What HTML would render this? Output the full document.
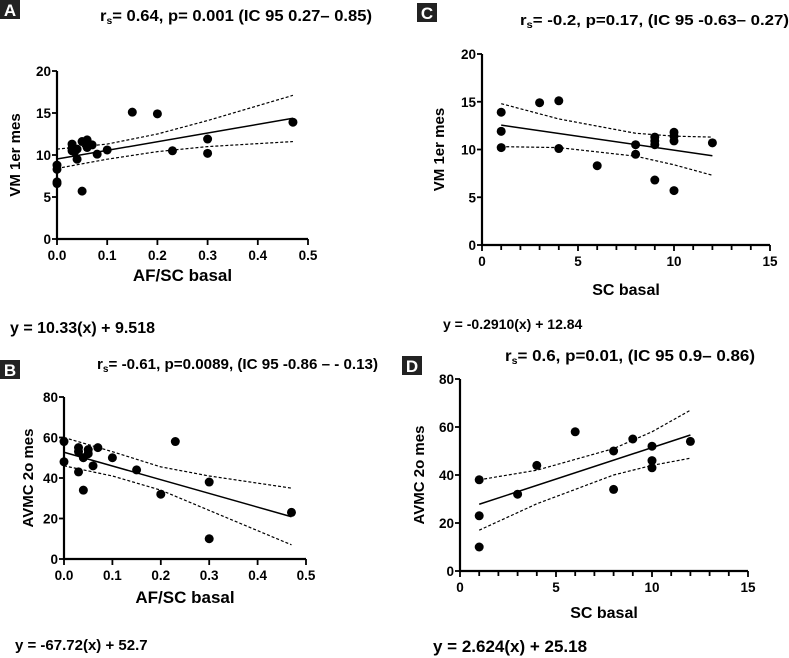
<!DOCTYPE html>
<html><head><meta charset="utf-8"><style>
body{margin:0;background:#fff}
svg{display:block}
svg text{font-family:"Liberation Sans",Arial,sans-serif;font-weight:700}
</style></head><body>
<svg id="fig" width="789" height="658" viewBox="0 0 789 658"></svg>
<script>
// Panel A data
const aX=[0,0,0,0,0.03,0.03,0.03,0.035,0.04,0.04,0.05,0.05,0.06,0.06,0.07,0.08,0.1,0.15,0.2,0.23,0.3,0.3,0.47];
const aY=[8.8,8.3,6.8,6.6,11.3,10.8,10.5,10.4,10.7,9.5,11.6,5.7,11.8,10.9,11.2,10.1,10.6,15.1,14.9,10.5,11.9,10.2,13.9];
const aCiX=[0,0.1,0.2,0.3,0.47];
const aCiUp=[10.7,11.3,12.5,14.1,17.1];
const aCiLo=[8.4,9.5,10.4,11.0,11.6];
const aFit=[10.33,9.518];
const aXTicks=["0.0","0.1","0.2","0.3","0.4","0.5"];
const aYTicks=["0","5","10","15","20"];
// Panel B data
const bX=[0,0,0.03,0.03,0.03,0.04,0.04,0.05,0.05,0.06,0.07,0.1,0.15,0.2,0.23,0.3,0.3,0.47];
const bY=[58,48,55,53,43,50,34,54,52,46,55,50,44,32,58,38,10,23];
const bCiX=[0,0.1,0.2,0.3,0.47];
const bCiUp=[60,53,45.5,41,35];
const bCiLo=[46,41,34,24,7];
const bFit=[-67.72,52.7];
const bYTicks=["0","20","40","60","80"];
// Panel C data
const cX=[1,1,1,3,4,4,6,8,8,9,9,9,9,10,10,10,10,12];
const cY=[13.9,11.9,10.2,14.9,15.1,10.1,8.3,10.5,9.5,11.3,10.9,10.5,6.8,11.8,11.4,10.9,5.7,10.7];
const cCiX=[1,4,8,10,12];
const cCiUp=[14.8,13.2,11.7,11.4,11.3];
const cCiLo=[10.3,10.2,9.3,8.4,7.3];
const cFit=[-0.291,12.84];
const cXTicks=["0","5","10","15"];
// Panel D data
const dX=[1,1,1,3,4,6,8,8,9,10,10,10,12];
const dY=[38,23,10,32,44,58,50,34,55,52,46,43,54];
const dCiX=[1,4,8,10,12];
const dCiUp=[38,42,51,58,67];
const dCiLo=[17,28,40,44,47];
const dFit=[2.624,25.18];

const NS="http://www.w3.org/2000/svg";
const svg=document.getElementById('fig');
function mk(tag,attrs,parent,text){const e=document.createElementNS(NS,tag);for(const k in attrs)e.setAttribute(k,attrs[k]);if(tag==='text')e.setAttribute('font-weight','bold');if(text!==undefined)e.textContent=text;(parent||svg).appendChild(e);return e;}

function panel(o){
  const g=mk('g',{});
  
  
  const sx=v=>o.x0+(v-o.xmin)/(o.xmax-o.xmin)*(o.x1-o.x0);
  const sy=v=>o.y0-(v-o.ymin)/(o.ymax-o.ymin)*(o.y0-o.y1);
  const ya=mk('line',{x1:o.x0,y1:o.y1,x2:o.x0,y2:o.y0+1,stroke:'#000','stroke-width':2.2},g);
  
  const xa=mk('line',{x1:o.x0-1,y1:o.y0,x2:o.x1,y2:o.y0,stroke:'#000','stroke-width':2.2},g);
  
  o.yt.forEach((t,i)=>{const v=o.ymin+i*(o.ymax-o.ymin)/(o.yt.length-1);const y=sy(v);
    mk('line',{x1:o.x0-5,y1:y,x2:o.x0,y2:y,stroke:'#000','stroke-width':1.8},g);
    const tx=mk('text',{x:o.x0-6,y:y+5,'text-anchor':'end','font-size':13.5},g,t);
    });
  o.xt.forEach((t,i)=>{const v=o.xmin+i*(o.xmax-o.xmin)/(o.xt.length-1);const x=sx(v);
    mk('line',{x1:x,y1:o.y0,x2:x,y2:o.y0+6,stroke:'#000','stroke-width':1.8},g);
    const tx=mk('text',{x:x,y:o.y0+21,'text-anchor':'middle','font-size':13.5},g,t);
    });
  if(o.minor){for(let v=o.xmin+1;v<o.xmax;v++){if(v%5===0)continue;const x=sx(v);mk('line',{x1:x,y1:o.y0,x2:x,y2:o.y0+5,stroke:'#000','stroke-width':1.8},g);}}
  [o.up,o.lo].forEach((arr,k)=>{const p=mk('polyline',{points:o.cx.map((c,i)=>sx(c)+','+sy(arr[i])).join(' '),fill:'none',stroke:'#000','stroke-width':1.2,'stroke-dasharray':'3,2'},g);
    });
  const xs=o.cx[0],xe=o.cx[o.cx.length-1];
  const fl=mk('line',{x1:sx(xs),y1:sy(o.fit[0]*xs+o.fit[1]),x2:sx(xe),y2:sy(o.fit[0]*xe+o.fit[1]),stroke:'#000','stroke-width':1.5},g);
  
  o.px.forEach((v,i)=>{const c=mk('circle',{cx:sx(v),cy:sy(o.py[i]),r:4.5,fill:'#000'},g);
    });
  const yl=mk('text',{x:o.ylx,y:(o.y0+o.y1)/2,'text-anchor':'middle','font-size':15,transform:`rotate(-90 ${o.ylx} ${(o.y0+o.y1)/2})`,'xml:space':'preserve'},g,o.ylab);
  
  const xl=mk('text',{x:(o.x0+o.x1)/2,y:o.xly,'text-anchor':'middle','font-size':o.xfs||16},g,o.xlab);
  
  const tt=mk('text',{x:o.tx,y:o.ty,'font-size':o.tfs,textLength:o.tw,lengthAdjust:'spacingAndGlyphs'},g);
  
  mk('tspan',{},tt,'r');mk('tspan',{'font-size':10,dy:3},tt,'s');mk('tspan',{dy:-3},tt,o.title);
  const b=mk('rect',{x:o.bx,y:o.by,width:20,height:19,fill:'#222'},g);
  
  const bt=mk('text',{x:o.bx+10,y:o.by+16,'text-anchor':'middle','font-size':17,fill:'#fff'},g,o.id);
  
  const eq=mk('text',{x:o.ex,y:o.ey,'font-size':o.efs},g,o.eq);
  
}

panel({id:'A',x0:57,x1:308,y0:239,y1:71,xmin:0,xmax:0.5,ymin:0,ymax:20,xt:aXTicks,yt:aYTicks,
  px:aX,py:aY,cx:aCiX,up:aCiUp,lo:aCiLo,fit:aFit,ylab:'VM   1er mes',ylx:20,xlab:'AF/SC basal',xly:281,xfs:17,
  title:'= 0.64, p= 0.001 (IC 95 0.27\u2013 0.85)',tx:100,ty:21,tfs:16,tw:272,bx:0,by:0,eq:'y = 10.33(x) + 9.518',ex:10,ey:333,efs:16});
panel({id:'B',x0:64,x1:306,y0:559,y1:397,xmin:0,xmax:0.5,ymin:0,ymax:80,xt:aXTicks,yt:bYTicks,
  px:bX,py:bY,cx:bCiX,up:bCiUp,lo:bCiLo,fit:bFit,ylab:'AVMC 2o mes',ylx:33,xlab:'AF/SC basal',xly:603,xfs:17,
  title:'= -0.61, p=0.0089, (IC 95 -0.86 \u2013 - 0.13)',tx:97,ty:369,tfs:15,tw:281,bx:0,by:360,eq:'y = -67.72(x) + 52.7',ex:15,ey:650,efs:15});
panel({id:'C',x0:482,x1:770,y0:245,y1:54,xmin:0,xmax:15,ymin:0,ymax:20,xt:cXTicks,yt:aYTicks,minor:true,
  px:cX,py:cY,cx:cCiX,up:cCiUp,lo:cCiLo,fit:cFit,ylab:'VM 1er mes',ylx:444,xlab:'SC basal',xly:295,
  title:'= -0.2, p=0.17, (IC 95 -0.63\u2013 0.27)',tx:520,ty:25,tfs:15,tw:269,bx:417,by:3,eq:'y = -0.2910(x) + 12.84',ex:443,ey:329,efs:14});
panel({id:'D',x0:460,x1:748,y0:571,y1:379,xmin:0,xmax:15,ymin:0,ymax:80,xt:cXTicks,yt:bYTicks,minor:true,
  px:dX,py:dY,cx:dCiX,up:dCiUp,lo:dCiLo,fit:dFit,ylab:'AVMC 2o mes',ylx:424,xlab:'SC basal',xly:618,
  title:'= 0.6, p=0.01, (IC 95 0.9\u2013 0.86)',tx:505,ty:361,tfs:16,tw:250,bx:402,by:356,eq:'y = 2.624(x) + 25.18',ex:433,ey:652,efs:17});
</script>
</body></html>
